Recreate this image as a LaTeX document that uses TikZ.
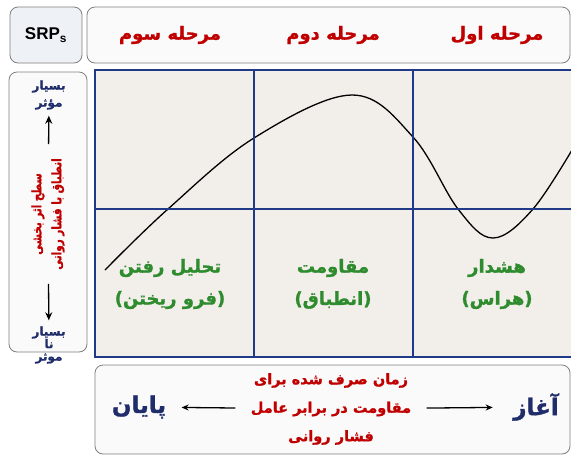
\documentclass[tikz,border=0pt]{standalone}
\usepackage{fontspec}
\setmainfont{Liberation Sans}
\newfontfamily\farsi[Script=Arabic, BoldFeatures={FakeBold=1.2}]{DejaVu Sans}
\newfontfamily\farsinarrow[Script=Arabic, FakeStretch=0.8, BoldFeatures={FakeBold=1.2}]{DejaVu Sans}
\TeXXeTstate=1
\usetikzlibrary{arrows.meta}
\definecolor{stagered}{HTML}{C00000}
\definecolor{phasegreen}{HTML}{2E8B2E}
\definecolor{gridnavy}{HTML}{203A88}
\definecolor{textnavy}{HTML}{1F2D6B}
\definecolor{panelgray}{HTML}{F2EFEB}
\definecolor{framegray}{HTML}{7F7F7F}
\definecolor{srpfill}{HTML}{EEF1F5}
\definecolor{boxfill}{HTML}{FBFAFA}

\newcommand{\prs}[1]{\beginR #1\endR}

\begin{document}
\begin{tikzpicture}[x=1pt, y=-1pt,
    frame/.style={draw=framegray, line width=0.8pt, rounded corners=8pt},
    gridline/.style={draw=gridnavy, line width=1.2pt},
    stagelabel/.style={text=stagered, font=\farsi\bfseries\fontsize{18}{20}\selectfont},
    phaselabel/.style={text=phasegreen, font=\farsi\bfseries\fontsize{18}{20}\selectfont},
    sidelabel/.style={text=textnavy, align=center, inner sep=1pt},
    endlabel/.style={text=textnavy, font=\farsi\bfseries\fontsize{23}{26}\selectfont},
    costlabel/.style={text=stagered, font=\farsi\bfseries\fontsize{14.5}{28.5}\selectfont, align=center},
    arr/.style={-{Stealth[length=8pt, width=7pt]}, line width=1.3pt}]
    \useasboundingbox (0,0) rectangle (571,456);

    % header
    \draw[frame, fill=srpfill] (10,7) rectangle (82,63);
    \node[font=\bfseries\fontsize{17}{20}\selectfont] (srp) at (46,35) {SRP\textsubscript{s}};
    \draw[frame, fill=boxfill] (87,7) rectangle (570,63);
    \node[stagelabel] (stage1) at (497,35) {\prs{مرحله اول}};
    \node[stagelabel] (stage2) at (333,35) {\prs{مرحله دوم}};
    \node[stagelabel] (stage3) at (170,35) {\prs{مرحله سوم}};

    % grid with curve
    \fill[panelgray] (95,70) rectangle (575,357);
    \begin{scope}
        \clip (95,70) rectangle (575,357);
        \draw[line width=1.3pt] plot[smooth, tension=0.6] coordinates {
            (105,270) (168,209) (254,138) (352,95) (413,137)
            (458,209) (493,238) (533,209) (575,145)};
    \end{scope}
    \draw[gridline] (95,70) rectangle (575,357);
    \draw[gridline] (254,70) -- (254,357);
    \draw[gridline] (413,70) -- (413,357);
    \draw[gridline] (95,209) -- (575,209);
    \node[phaselabel] (alarm) at (497,268) {\prs{هشدار}};
    \node[phaselabel] (alarmb) at (497,300) {\prs{(هراس)}};
    \node[phaselabel] (resist) at (333,268) {\prs{مقاومت}};
    \node[phaselabel] (resistb) at (333,300) {\prs{(انطباق)}};
    \node[phaselabel] (exhaust) at (170,268) {\prs{تحلیل رفتن}};
    \node[phaselabel] (exhaustb) at (170,300) {\prs{(فرو ریختن)}};

    % left axis
    \draw[frame, fill=boxfill] (9,72) rectangle (87,352);
    \node[sidelabel, font=\farsi\bfseries\fontsize{12}{17}\selectfont] (high) at (49,95)
          {\prs{بسیار}\\\prs{مؤثر}};
    \node[sidelabel, font=\farsi\bfseries\fontsize{12}{12.5}\selectfont] (low) at (49,345)
          {\prs{بسیار}\\\prs{نا}\\\prs{موثر}};
    \node[rotate=90, text=stagered, align=center, inner sep=0pt,
          font=\farsinarrow\bfseries\fontsize{13}{20}\selectfont] (level) at (48,214)
          {\prs{سطح اثر بخشی}\\\prs{انطباق با فشار روانی}};
    \draw[arr, shorten <=14pt, shorten >=5pt] (level) -- (high);
    \draw[arr, shorten <=14pt, shorten >=5pt] (level) -- (low);

    % time axis
    \draw[frame, fill=boxfill] (95,365) rectangle (570,454);
    \node[endlabel] (start) at (536,407) {\prs{آغاز}};
    \node[endlabel] (finish) at (139,407) {\prs{پایان}};
    \node[costlabel] (cost) at (331,409)
          {\prs{زمان صرف شده برای}\\\prs{مقاومت در برابر عامل}\\\prs{فشار روانی}};
    \draw[arr, -{Stealth[length=7pt, width=6pt]}, shorten <=12pt, shorten >=17pt] (cost) -- (start);
    \draw[arr, -{Stealth[length=7pt, width=6pt]}, shorten <=12pt, shorten >=12pt] (cost) -- (finish);
\end{tikzpicture}
\end{document}
